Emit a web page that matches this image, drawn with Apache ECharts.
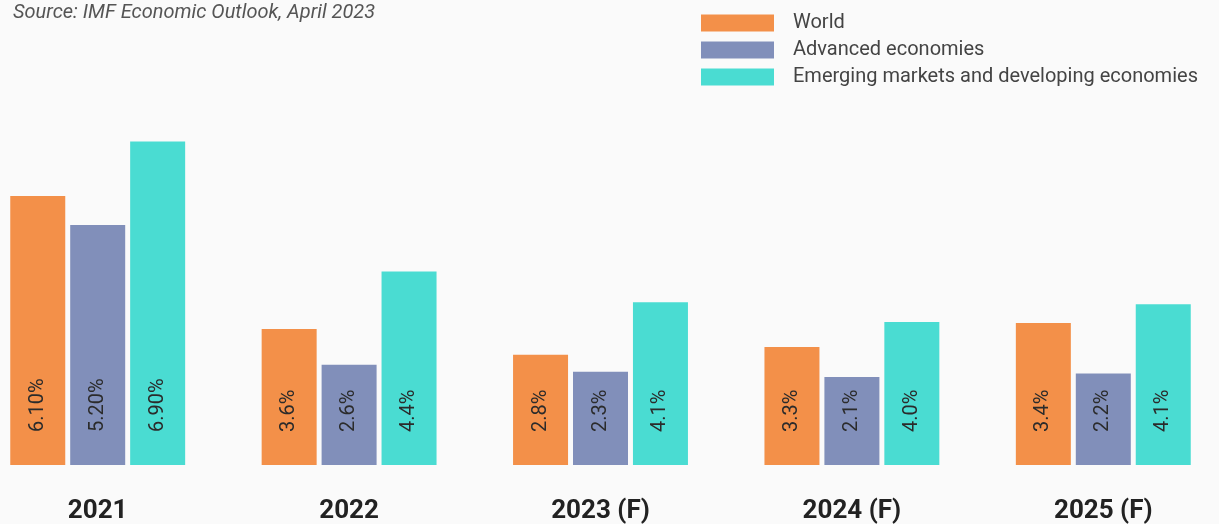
<!DOCTYPE html>
<html>
<head>
<meta charset="utf-8">
<script src="https://cdn.jsdelivr.net/npm/echarts@6/dist/echarts.min.js"></script>
<style>
  html, body { margin: 0; padding: 0; background: #fafafa; overflow: hidden; }
  /* the plot runs a bit past both edges of the window */
  #chart { position: absolute; left: -28px; top: 0; width: 1257px; height: 524px; }
</style>
</head>
<body>
<div id="chart"></div>
<script>
// categories (years, F = forecast)
var years = ['2021', '2022', '2023 (F)', '2024 (F)', '2025 (F)'];
var seriesNames = ['World', 'Advanced economies', 'Emerging markets and developing economies'];

// bar heights as drawn in the picture
var worldVals = [5.74, 2.90, 2.35, 2.52, 3.03];
var advancedVals = [5.12, 2.14, 1.99, 1.88, 1.95];
var emergingVals = [6.90, 4.13, 3.47, 3.05, 3.43];

// labels printed in the bars
var worldLabels = ['6.10%', '3.6%', '2.8%', '3.3%', '3.4%'];
var advancedLabels = ['5.20%', '2.6%', '2.3%', '2.1%', '2.2%'];
var emergingLabels = ['6.90%', '4.4%', '4.1%', '4.0%', '4.1%'];

var colors = ['#F39049', '#818FBA', '#4ADCD2'];
var shift = 28; // div offset

function makeSeries(name, vals, labels, color) {
    return {
        name: name,
        type: 'bar',
        barWidth: 55,
        barGap: '9%',
        itemStyle: { color: color },
        label: {
            show: true,
            position: 'insideBottom',
            distance: 33,
            rotate: 90,
            align: 'left',
            verticalAlign: 'middle',
            color: '#2b2b2b',
            fontFamily: 'Roboto',
            fontSize: 20,
            formatter: function (p) { return labels[p.dataIndex]; }
        },
        data: vals
    };
}

var chart = echarts.init(document.getElementById('chart'));
chart.setOption({
    backgroundColor: '#fafafa',
    animation: false,
    title: {
        text: 'Source: IMF Economic Outlook, April 2023',
        left: 13 + shift,
        top: 3,
        padding: 0,
        textStyle: {
            fontFamily: 'Roboto',
            fontStyle: 'italic',
            fontWeight: 'normal',
            fontSize: 20,
            color: '#555'
        }
    },
    legend: {
        orient: 'vertical',
        left: 701 + shift,
        top: 13,
        padding: 0,
        itemWidth: 73,
        itemHeight: 17,
        itemGap: 7,
        icon: 'rect',
        textStyle: {
            fontFamily: 'Roboto',
            fontSize: 20,
            color: '#444',
            padding: [0, 0, 0, 14]
        },
        data: seriesNames
    },
    grid: {
        left: 0,
        right: 0,
        top: 90,
        bottom: 57
    },
    xAxis: {
        type: 'category',
        data: years,
        axisLine: { show: false },
        axisTick: { show: false },
        axisLabel: {
            margin: 33,
            fontFamily: 'Roboto',
            fontWeight: 'bold',
            fontSize: 26,
            color: '#222'
        }
    },
    yAxis: {
        type: 'value',
        min: 0,
        max: 8,
        show: false,
        splitLine: { show: false }
    },
    series: [
        makeSeries(seriesNames[0], worldVals, worldLabels, colors[0]),
        makeSeries(seriesNames[1], advancedVals, advancedLabels, colors[1]),
        makeSeries(seriesNames[2], emergingVals, emergingLabels, colors[2])
    ]
});
</script>
</body>
</html>
